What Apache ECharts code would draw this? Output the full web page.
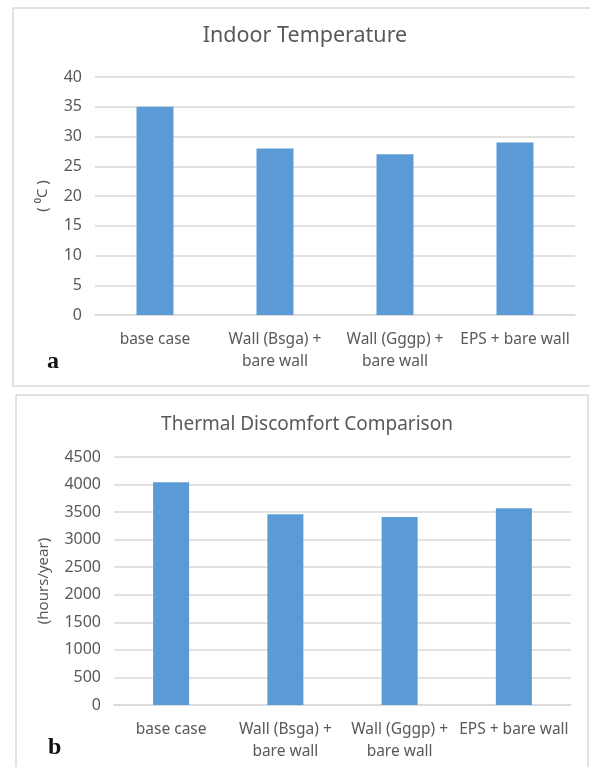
<!DOCTYPE html>
<html>
<head>
<meta charset="utf-8">
<script src="https://cdn.jsdelivr.net/npm/echarts@6/dist/echarts.min.js"></script>
<style>
html,body{margin:0;padding:0;background:#fff;}
#c{width:590px;height:767px;}
</style>
</head>
<body>
<div id="c"></div>
<script>
const categories = ['base case', 'Wall (Bsga) +\nbare wall', 'Wall (Gggp) +\nbare wall', 'EPS + bare wall'];
const tempValues = [35, 28, 27, 29];
const discomfortValues = [4040, 3460, 3410, 3570];
const tempTitle = 'Indoor Temperature';
const discomfortTitle = 'Thermal Discomfort Comparison';
const tempAxisName = '( \u2070C )';
const discomfortAxisName = '(hours/year)';

const FONT = '"Noto Sans", "Open Sans", sans-serif';
const TXT = '#595959';
const GRID = '#d9d9d9';
const BAR = '#5b9bd5';

const chart = echarts.init(document.getElementById('c'), null, {renderer: 'canvas'});

function xAxis(gi) {
  return {
    type: 'category', gridIndex: gi, data: categories,
    axisLine: {lineStyle: {color: GRID, width: 1.5}},
    axisTick: {show: false},
    axisLabel: {color: TXT, fontFamily: FONT, fontSize: 15.5, lineHeight: 22, margin: 14, interval: 0}
  };
}
function yAxis(gi, max, interval, name, gap) {
  return {
    type: 'value', gridIndex: gi, min: 0, max: max, interval: interval,
    name: name, nameLocation: 'middle', nameGap: gap, nameRotate: 90,
    nameTextStyle: {color: TXT, fontFamily: FONT, fontSize: 15},
    axisLine: {show: false}, axisTick: {show: false},
    axisLabel: {color: TXT, fontFamily: FONT, fontSize: 16, margin: 13,
                formatter: function (v) { return String(v); }},
    splitLine: {lineStyle: {color: GRID, width: 1.5}}
  };
}

chart.setOption({
  animation: false,
  grid: [
    {left: 95, width: 480, top: 77, height: 238},
    {left: 114, width: 457, top: 457, height: 248}
  ],
  xAxis: [xAxis(0), xAxis(1)],
  yAxis: [yAxis(0, 40, 5, tempAxisName, 45), yAxis(1, 4500, 500, discomfortAxisName, 63)],
  series: [
    {type: 'bar', xAxisIndex: 0, yAxisIndex: 0, data: tempValues, barWidth: 37,
     itemStyle: {color: BAR}},
    {type: 'bar', xAxisIndex: 1, yAxisIndex: 1, data: discomfortValues, barWidth: 36,
     itemStyle: {color: BAR}}
  ],
  graphic: [
    {type: 'rect', z: -1, shape: {x: 13, y: 8, width: 600, height: 378},
     style: {fill: '#fff', stroke: GRID, lineWidth: 1.5}},
    {type: 'rect', z: -1, shape: {x: 16, y: 395, width: 572, height: 400},
     style: {fill: '#fff', stroke: GRID, lineWidth: 1.5}},
    {type: 'text', x: 305, y: 36,
     style: {text: tempTitle, fill: TXT, font: '21.5px ' + FONT, align: 'center', verticalAlign: 'middle'}},
    {type: 'text', x: 307, y: 425,
     style: {text: discomfortTitle, fill: TXT, font: '19px ' + FONT, align: 'center', verticalAlign: 'middle'}},
    {type: 'text', left: 47, top: 350,
     style: {text: 'a', fill: '#111', font: 'bold 24px "Liberation Serif", serif'}},
    {type: 'text', left: 48, top: 736,
     style: {text: 'b', fill: '#111', font: 'bold 24px "Liberation Serif", serif'}}
  ]
});
</script>
</body>
</html>
